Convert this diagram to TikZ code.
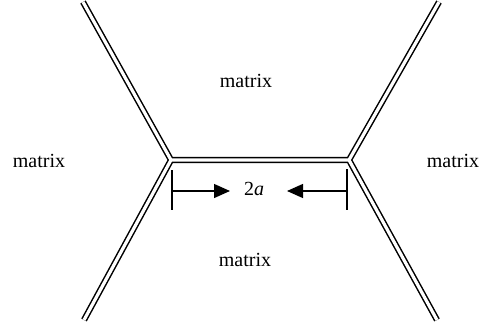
\documentclass[tikz,border=0pt]{standalone}
\usepackage{fontspec}
\setmainfont{Liberation Serif}
\usetikzlibrary{arrows.meta}
\tikzset{
    wall/.style={double,line width=1.5pt,double distance=3.2pt},
    bar/.style={line width=1.3pt},
    dim/.style={-{Triangle[length=16pt,width=14pt]},line width=1.3pt},
    lbl/.style={anchor=base,inner sep=0pt,font=\fontsize{20}{24}\selectfont},
}
\begin{document}
\begin{tikzpicture}[x=1pt,y=-1pt]
\useasboundingbox (0,0) rectangle (480,324);
% triple junctions and the ends of the boundaries
\coordinate (jl) at (171,160);
\coordinate (jr) at (349,160);
\coordinate (ul) at (83,2);
\coordinate (ll) at (84,320);
\coordinate (ur) at (439,2);
\coordinate (lr) at (437,320);
\draw[wall] (ul) -- (jl) -- (ll) (jl) -- (jr) (ur) -- (jr) -- (lr);
% length of the boundary
\coordinate (bl1) at (172,170);
\coordinate (bl2) at (172,210);
\coordinate (br1) at (347,169);
\coordinate (br2) at (347,210);
\draw[bar] (bl1) -- (bl2);
\draw[bar] (br1) -- (br2);
\coordinate (al) at (172,191);
\coordinate (ar) at (347,191);
\coordinate (tipl) at (230,191);
\coordinate (tipr) at (287,191);
\draw[dim] (al) -- (tipl);
\draw[dim] (ar) -- (tipr);
\node[lbl] (len) at (254,195) {2\textit{a}};
% grains
\node[lbl] (mtop) at (246,87) {matrix};
\node[lbl] (mleft) at (39,167) {matrix};
\node[lbl] (mright) at (453,167) {matrix};
\node[lbl] (mbot) at (245,266) {matrix};
\end{tikzpicture}
\end{document}
